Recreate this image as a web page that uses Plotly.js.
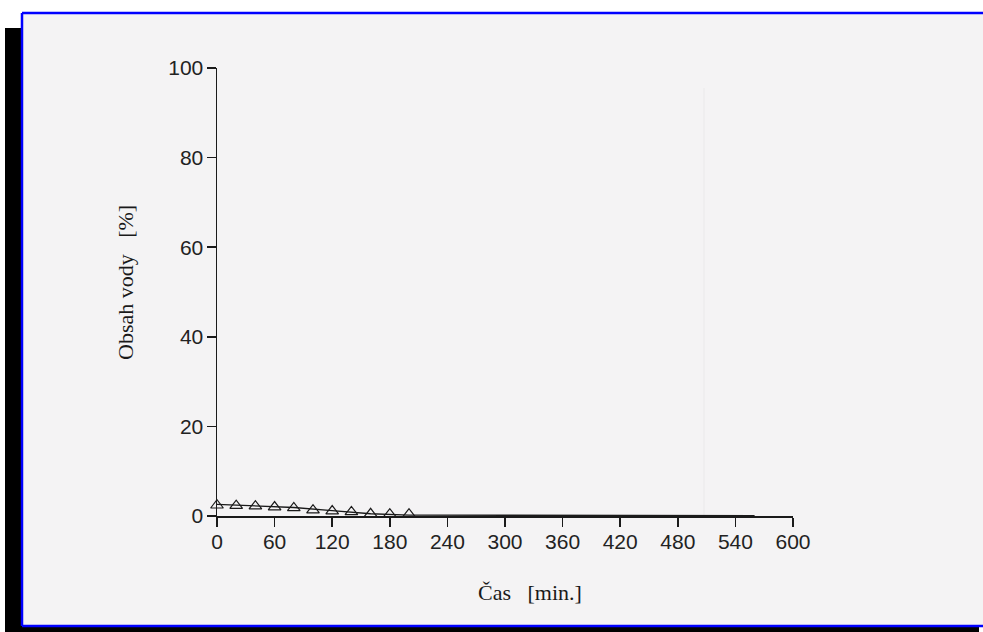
<!DOCTYPE html>
<html>
<head>
<meta charset="utf-8">
<script src="https://cdn.plot.ly/plotly-3.0.1.min.js"></script>
<style>html,body{margin:0;padding:0;background:#fff;}#chart{width:983px;height:632px;}</style>
</head>
<body>
<div id="chart"></div>
<script>
// Measured points (time in min, water content in %)
const timeMeasured = [0, 20, 40, 60, 80, 100, 120, 140, 160, 180, 200];
const waterMeasured = [2.4, 2.3, 2.2, 2.0, 1.8, 1.3, 1.1, 0.9, 0.5, 0.4, 0.4];
// Fitted curve
const timeFit = [0, 40, 80, 120, 160, 200, 560];
const waterFit = [2.6, 2.3, 1.9, 1.2, 0.5, 0.2, 0.1];
const xTicks = [0, 60, 120, 180, 240, 300, 360, 420, 480, 540, 600];
const yTicks = [0, 20, 40, 60, 80, 100];
const xTitle = 'Čas&nbsp;&nbsp;&nbsp;[min.]';
const yTitle = 'Obsah vody&nbsp;&nbsp;&nbsp;[%]';

const W = 983, H = 632;
const L = 217, R = 793, T = 68, B = 516;
const px = v => (v - L) / (R - L);
const py = v => (B - v) / (B - T);

const traces = [
  {x: timeFit, y: waterFit, mode: 'lines', line: {color: '#1a1a1a', width: 1.3}, hoverinfo: 'skip', cliponaxis: false},
  {x: timeMeasured, y: waterMeasured, mode: 'markers',
   marker: {symbol: 'triangle-up-open', size: 11, color: '#1a1a1a', line: {width: 1.2}}, cliponaxis: false}
];

const blue = {color: '#0000ff', width: 2.5};
const shapes = [
  {type: 'rect', xref: 'paper', yref: 'paper', x0: px(5), x1: px(22), y0: py(632), y1: py(28), fillcolor: '#000', line: {width: 0}, layer: 'below'},
  {type: 'rect', xref: 'paper', yref: 'paper', x0: px(5), x1: px(979), y0: py(632), y1: py(626), fillcolor: '#000', line: {width: 0}, layer: 'below'},
  {type: 'rect', xref: 'paper', yref: 'paper', x0: px(22), x1: px(983), y0: py(626), y1: py(13), fillcolor: '#f4f3f4', line: {width: 0}, layer: 'below'},
  {type: 'line', xref: 'paper', yref: 'paper', x0: px(22), x1: px(983), y0: py(13), y1: py(13), line: blue, layer: 'below'},
  {type: 'line', xref: 'paper', yref: 'paper', x0: px(22), x1: px(22), y0: py(13), y1: py(626), line: blue, layer: 'below'},
  {type: 'line', xref: 'paper', yref: 'paper', x0: px(22), x1: px(983), y0: py(626), y1: py(626), line: blue, layer: 'below'},
  {type: 'line', xref: 'paper', yref: 'paper', x0: px(704), x1: px(704), y0: py(515), y1: py(88), line: {color: '#ebebeb', width: 1.2}, layer: 'below'}
];

const titleFont = {family: 'Liberation Serif, Times New Roman, serif', size: 22, color: '#1a1a1a'};
const annotations = [
  {text: xTitle, xref: 'paper', yref: 'paper', x: px(530), y: py(592), xanchor: 'center', yanchor: 'middle', showarrow: false, font: titleFont},
  {text: yTitle, xref: 'paper', yref: 'paper', x: px(125), y: py(283), xanchor: 'center', yanchor: 'middle', textangle: -90, showarrow: false, font: titleFont}
];

const layout = {
  width: W, height: H,
  margin: {l: L, r: W - R, t: T, b: H - B},
  paper_bgcolor: '#ffffff',
  plot_bgcolor: 'rgba(0,0,0,0)',
  showlegend: false,
  font: {family: 'Liberation Sans, Arial, sans-serif', color: '#1a1a1a'},
  xaxis: {
    range: [0, 600], tickvals: xTicks, ticktext: xTicks.map(String),
    showgrid: false, zeroline: false, showline: true, linecolor: '#1a1a1a', linewidth: 1.5,
    ticks: 'outside', ticklen: 9, tickwidth: 1.5, tickcolor: '#1a1a1a', ticklabelstandoff: -3,
    tickfont: {size: 21, family: 'Liberation Sans, Arial, sans-serif', color: '#222'},
    fixedrange: true
  },
  yaxis: {
    range: [0, 100], tickvals: yTicks, ticktext: yTicks.map(String),
    showgrid: false, zeroline: false, showline: true, linecolor: '#1a1a1a', linewidth: 1.5,
    ticks: 'outside', ticklen: 9, tickwidth: 1.5, tickcolor: '#1a1a1a', ticklabelstandoff: -1,
    tickfont: {size: 21, family: 'Liberation Sans, Arial, sans-serif', color: '#222'},
    fixedrange: true
  },
  shapes: shapes,
  annotations: annotations
};

Plotly.newPlot('chart', traces, layout, {staticPlot: true, displayModeBar: false});
</script>
</body>
</html>
